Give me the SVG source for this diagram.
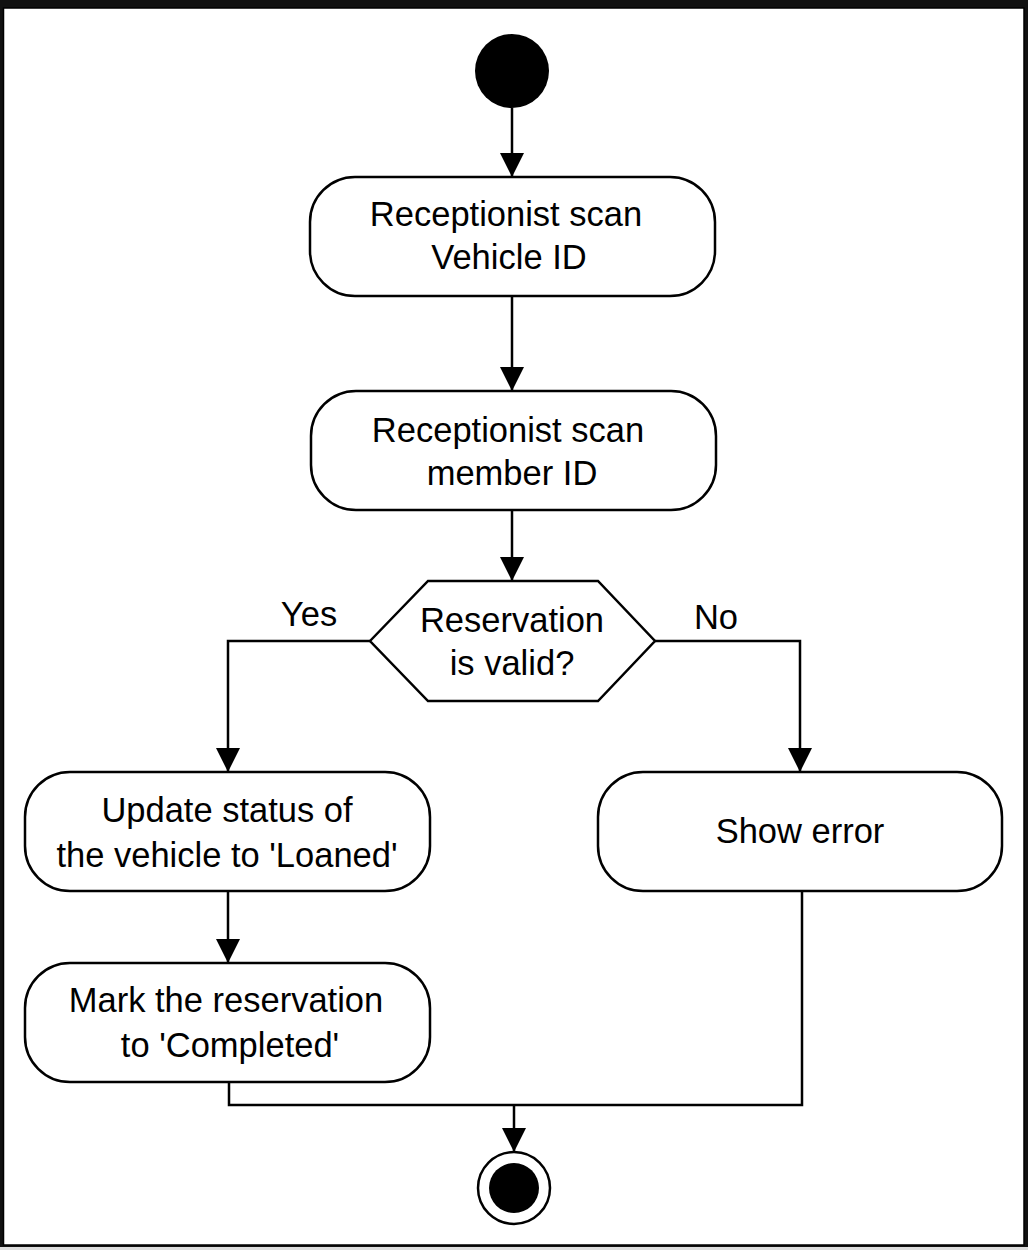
<svg xmlns="http://www.w3.org/2000/svg" width="1028" height="1250" viewBox="0 0 1028 1250">
<defs>
<style>
.node{fill:#fff;stroke:#000;stroke-width:2.5}
.t{font-family:"Liberation Sans",Arial,sans-serif;font-size:34.5px;fill:#000;text-anchor:middle}
.edge{fill:none;stroke:#000;stroke-width:2.5}
</style>
<marker id="arr" viewBox="0 0 24 24" refX="23" refY="12" markerWidth="24" markerHeight="24" markerUnits="userSpaceOnUse" orient="auto">
<path d="M0,0 L24,12 L0,24 Z" fill="#000"/>
</marker>
</defs>
<rect x="0" y="0" width="1028" height="1250" fill="#111"/>
<rect x="0" y="1247" width="1028" height="3" fill="#ddd"/>
<rect x="3.5" y="8" width="1020.5" height="1237" fill="#fff" stroke="#000" stroke-width="1.5"/>
<g id="connectors">
<path class="edge" d="M512,108 L512,176" marker-end="url(#arr)"/>
<path class="edge" d="M512,296 L512,390" marker-end="url(#arr)"/>
<path class="edge" d="M512,510 L512,580" marker-end="url(#arr)"/>
<path class="edge" d="M370,641 L228,641 L228,771" marker-end="url(#arr)"/>
<path class="edge" d="M655,641 L800,641 L800,771" marker-end="url(#arr)"/>
<path class="edge" d="M228,891 L228,962" marker-end="url(#arr)"/>
<path class="edge" d="M229,1082 L229,1105 L802,1105 L802,891"/>
<path class="edge" d="M514,1105 L514,1151" marker-end="url(#arr)"/>
<text class="t" x="309" y="626">Yes</text>
<text class="t" x="716" y="629">No</text>
</g>
<g id="start">
<circle cx="512" cy="71" r="37" fill="#000"/>
</g>
<g id="scanVehicle">
<rect class="node" x="310" y="177" width="405" height="119" rx="45"/>
<text class="t" x="506" y="226">Receptionist scan</text>
<text class="t" x="509" y="269">Vehicle ID</text>
</g>
<g id="scanMember">
<rect class="node" x="311" y="391" width="405" height="119" rx="45"/>
<text class="t" x="508" y="442">Receptionist scan</text>
<text class="t" x="512" y="485">member ID</text>
</g>
<g id="decision">
<polygon class="node" points="370,641 428,581 598,581 655,641 598,701 428,701"/>
<text class="t" x="512" y="632">Reservation</text>
<text class="t" x="512" y="675">is valid?</text>
</g>
<g id="updateStatus">
<rect class="node" x="25" y="772" width="405" height="119" rx="45"/>
<text class="t" x="227" y="822">Update status of</text>
<text class="t" x="227" y="867">the vehicle to 'Loaned'</text>
</g>
<g id="markCompleted">
<rect class="node" x="25" y="963" width="405" height="119" rx="45"/>
<text class="t" x="226" y="1012">Mark the reservation</text>
<text class="t" x="230" y="1057">to 'Completed'</text>
</g>
<g id="showError">
<rect class="node" x="598" y="772" width="404" height="119" rx="45"/>
<text class="t" x="800" y="843">Show error</text>
</g>
<g id="end">
<circle cx="514" cy="1188" r="36" fill="#fff" stroke="#000" stroke-width="2.5"/>
<circle cx="514" cy="1188" r="25" fill="#000"/>
</g>
</svg>
